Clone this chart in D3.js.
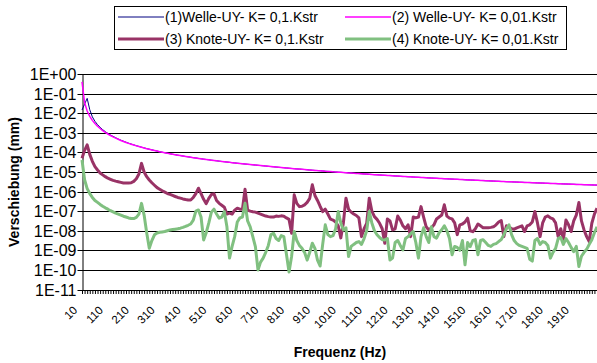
<!DOCTYPE html>
<html><head><meta charset="utf-8">
<script src="https://cdn.jsdelivr.net/npm/d3@7/dist/d3.min.js"></script>
<style>body{margin:0;background:#fff}svg{display:block}</style>
</head><body><svg id="c" width="597" height="363"></svg>
<script>
const freqs = d3.range(10, 2001, 10);
const tickLabels = ["10","110","210","310","410","510","610","710","810","910","1010","1110","1210","1310","1410","1510","1610","1710","1810","1910"];
const yTickLabels = ["1E-11","1E-10","1E-09","1E-08","1E-07","1E-06","1E-05","1E-04","1E-03","1E-02","1E-01","1E+00"];
const seriesNames = ["(1)Welle-UY- K= 0,1.Kstr","(2) Welle-UY- K= 0,01.Kstr","(3) Knote-UY- K= 0,1.Kstr","(4) Knote-UY- K= 0,01.Kstr"];

const welle1 = [1.45e-2,2.9e-2,5.7e-2,1.5e-2,6.5e-3,3.85e-3,2.6e-3,1.89e-3,1.44e-3,1.14e-3,
9.28e-4,7.7e-4,6.5e-4,5.57e-4,4.81e-4,4.21e-4,3.72e-4,3.3e-4,2.95e-4,2.66e-4,
2.41e-4,2.19e-4,2.0e-4,1.84e-4,1.69e-4,1.56e-4,1.45e-4,1.35e-4,1.25e-4,1.17e-4,
1.08e-4,1.02e-4,9.55e-5,9.0e-5,8.49e-5,8.02e-5,7.6e-5,7.2e-5,6.84e-5,6.5e-5,
6.19e-5,5.9e-5,5.62e-5,5.37e-5,5.14e-5,4.91e-5,4.71e-5,4.51e-5,4.33e-5,4.16e-5,
4.0e-5,3.85e-5,3.7e-5,3.57e-5,3.44e-5,3.32e-5,3.2e-5,3.09e-5,2.99e-5,2.89e-5,
2.79e-5,2.71e-5,2.62e-5,2.54e-5,2.46e-5,2.39e-5,2.32e-5,2.25e-5,2.18e-5,2.12e-5,
2.06e-5,2.0e-5,1.94e-5,1.88e-5,1.83e-5,1.78e-5,1.73e-5,1.68e-5,1.64e-5,1.59e-5,
1.55e-5,1.51e-5,1.47e-5,1.43e-5,1.4e-5,1.36e-5,1.33e-5,1.29e-5,1.26e-5,1.23e-5,
1.2e-5,1.17e-5,1.15e-5,1.12e-5,1.09e-5,1.07e-5,1.05e-5,1.02e-5,1.0e-5,9.78e-6,
9.56e-6,9.36e-6,9.16e-6,8.96e-6,8.77e-6,8.59e-6,8.41e-6,8.24e-6,8.07e-6,7.91e-6,
7.75e-6,7.59e-6,7.44e-6,7.3e-6,7.16e-6,7.02e-6,6.88e-6,6.75e-6,6.62e-6,6.5e-6,
6.38e-6,6.26e-6,6.15e-6,6.03e-6,5.92e-6,5.82e-6,5.71e-6,5.61e-6,5.51e-6,5.42e-6,
5.33e-6,5.24e-6,5.15e-6,5.07e-6,4.98e-6,4.9e-6,4.83e-6,4.75e-6,4.67e-6,4.6e-6,
4.53e-6,4.46e-6,4.39e-6,4.32e-6,4.25e-6,4.19e-6,4.12e-6,4.06e-6,4.0e-6,3.94e-6,
3.89e-6,3.83e-6,3.77e-6,3.72e-6,3.67e-6,3.61e-6,3.56e-6,3.51e-6,3.46e-6,3.41e-6,
3.37e-6,3.32e-6,3.28e-6,3.24e-6,3.2e-6,3.16e-6,3.12e-6,3.08e-6,3.04e-6,3.0e-6,
2.97e-6,2.93e-6,2.9e-6,2.86e-6,2.83e-6,2.79e-6,2.76e-6,2.73e-6,2.7e-6,2.66e-6,
2.63e-6,2.6e-6,2.57e-6,2.54e-6,2.51e-6,2.49e-6,2.46e-6,2.43e-6,2.4e-6,2.38e-6,
2.35e-6,2.32e-6,2.3e-6,2.27e-6,2.25e-6,2.23e-6,2.2e-6,2.18e-6,2.15e-6,2.13e-6];

const welle2 = [4.0e-1,3.5e-2,1.3e-2,6.9e-3,4.3e-3,3.0e-3,2.16e-3,1.65e-3,1.3e-3,1.05e-3,
8.66e-4,7.27e-4,6.19e-4,5.33e-4,4.64e-4,4.06e-4,3.6e-4,3.21e-4,2.88e-4,2.6e-4,
2.36e-4,2.15e-4,1.97e-4,1.81e-4,1.66e-4,1.54e-4,1.43e-4,1.33e-4,1.24e-4,1.16e-4,
1.08e-4,1.02e-4,9.55e-5,9.0e-5,8.49e-5,8.02e-5,7.6e-5,7.2e-5,6.84e-5,6.5e-5,
6.19e-5,5.9e-5,5.62e-5,5.37e-5,5.14e-5,4.91e-5,4.71e-5,4.51e-5,4.33e-5,4.16e-5,
4.0e-5,3.85e-5,3.7e-5,3.57e-5,3.44e-5,3.32e-5,3.2e-5,3.09e-5,2.99e-5,2.89e-5,
2.79e-5,2.71e-5,2.62e-5,2.54e-5,2.46e-5,2.39e-5,2.32e-5,2.25e-5,2.18e-5,2.12e-5,
2.06e-5,2.0e-5,1.94e-5,1.88e-5,1.83e-5,1.78e-5,1.73e-5,1.68e-5,1.64e-5,1.59e-5,
1.55e-5,1.51e-5,1.47e-5,1.43e-5,1.4e-5,1.36e-5,1.33e-5,1.29e-5,1.26e-5,1.23e-5,
1.2e-5,1.17e-5,1.15e-5,1.12e-5,1.09e-5,1.07e-5,1.05e-5,1.02e-5,1.0e-5,9.78e-6,
9.56e-6,9.36e-6,9.16e-6,8.96e-6,8.77e-6,8.59e-6,8.41e-6,8.24e-6,8.07e-6,7.91e-6,
7.75e-6,7.59e-6,7.44e-6,7.3e-6,7.16e-6,7.02e-6,6.88e-6,6.75e-6,6.62e-6,6.5e-6,
6.38e-6,6.26e-6,6.15e-6,6.03e-6,5.92e-6,5.82e-6,5.71e-6,5.61e-6,5.51e-6,5.42e-6,
5.33e-6,5.24e-6,5.15e-6,5.07e-6,4.98e-6,4.9e-6,4.83e-6,4.75e-6,4.67e-6,4.6e-6,
4.53e-6,4.46e-6,4.39e-6,4.32e-6,4.25e-6,4.19e-6,4.12e-6,4.06e-6,4.0e-6,3.94e-6,
3.89e-6,3.83e-6,3.77e-6,3.72e-6,3.67e-6,3.61e-6,3.56e-6,3.51e-6,3.46e-6,3.41e-6,
3.37e-6,3.32e-6,3.28e-6,3.24e-6,3.2e-6,3.16e-6,3.12e-6,3.08e-6,3.04e-6,3.0e-6,
2.97e-6,2.93e-6,2.9e-6,2.86e-6,2.83e-6,2.79e-6,2.76e-6,2.73e-6,2.7e-6,2.66e-6,
2.63e-6,2.6e-6,2.57e-6,2.54e-6,2.51e-6,2.49e-6,2.46e-6,2.43e-6,2.4e-6,2.38e-6,
2.35e-6,2.32e-6,2.3e-6,2.27e-6,2.25e-6,2.23e-6,2.2e-6,2.18e-6,2.15e-6,2.13e-6];

const knote3 = [5.0e-5,1.26e-4,2.4e-4,7.9e-5,3.5e-5,1.86e-5,1.26e-5,8.9e-6,7.1e-6,5.75e-6,
4.8e-6,4.2e-6,3.7e-6,3.4e-6,3.16e-6,2.95e-6,2.75e-6,2.7e-6,2.7e-6,2.8e-6,
3.3e-6,4.5e-6,7.9e-6,2.75e-5,1.0e-5,5.75e-6,3.9e-6,2.8e-6,2.1e-6,1.58e-6,
1.32e-6,1.1e-6,9.3e-7,7.9e-7,7.1e-7,6.3e-7,5.6e-7,5.0e-7,4.6e-7,4.2e-7,
3.9e-7,3.7e-7,3.7e-7,5.0e-7,7.9e-7,1.48e-6,7.9e-7,4.0e-7,2.4e-7,4.5e-7,
7.1e-7,7.6e-7,3.5e-7,2.5e-7,2.0e-7,1.58e-7,7.1e-8,7.9e-8,7.1e-8,1.12e-7,
1.41e-7,1.26e-7,1.26e-7,1.32e-6,1.12e-7,1.0e-7,9.3e-8,8.9e-8,7.9e-8,7.1e-8,
6.3e-8,5.6e-8,5.25e-8,5.0e-8,5.0e-8,5.6e-8,5.4e-8,5.75e-8,5.5e-8,4.5e-8,
3.8e-8,7.4e-9,6.8e-7,2.5e-7,1.7e-7,1.78e-7,2.1e-7,2.8e-7,4.5e-7,2.2e-6,
6.3e-7,3.5e-7,1.78e-7,9.5e-8,1.26e-7,7.1e-8,3.9e-8,3.5e-8,2.8e-8,1.78e-8,
4.3e-9,2.5e-8,4.6e-7,1.26e-7,8.9e-8,7.1e-8,6.0e-8,4.5e-8,5.0e-9,1.26e-8,
2.4e-8,4.6e-7,1.0e-7,5.25e-8,3.8e-8,2.4e-8,1.26e-8,2.3e-9,4.0e-8,3.16e-8,
1.1e-8,1.26e-8,5.6e-8,3.5e-8,1.78e-8,1.26e-8,2.0e-8,5.0e-9,5.0e-8,4.5e-8,
5.0e-8,1.7e-7,5.0e-8,1.58e-8,1.1e-8,1.41e-8,2.0e-8,4.0e-8,5.0e-8,6.3e-8,
2.1e-7,5.6e-8,4.4e-8,4.0e-8,2.5e-8,6.3e-9,2.0e-8,2.2e-8,2.8e-8,4.4e-8,
1.0e-8,8.9e-9,1.26e-8,2.2e-8,1.78e-8,1.41e-8,1.41e-8,1.41e-8,1.48e-8,1.58e-8,
2.0e-8,2.8e-8,3.3e-8,5.0e-9,1.78e-8,1.58e-8,1.26e-8,1.2e-8,1.41e-8,1.58e-8,
1.78e-8,9.1e-9,1.78e-8,2.0e-8,2.8e-8,9.5e-8,2.5e-8,5.0e-9,2.5e-8,5.0e-8,
5.75e-8,4.5e-8,4.0e-8,2.5e-8,5.0e-9,1.26e-8,3.4e-9,3.5e-8,2.0e-8,9.1e-9,
3.16e-8,6.3e-8,2.75e-7,3.16e-8,1.1e-8,5.0e-9,2.8e-9,2.4e-8,7.1e-8,1.41e-7];

const knote4 = [4.1e-5,4.0e-6,1.41e-6,7.9e-7,5.0e-7,3.5e-7,2.8e-7,2.2e-7,1.78e-7,1.48e-7,
1.26e-7,1.05e-7,9.1e-8,7.9e-8,7.1e-8,6.3e-8,5.5e-8,5.0e-8,4.5e-8,4.2e-8,
4.2e-8,4.8e-8,7.1e-8,2.5e-7,6.3e-8,7.9e-9,1.29e-9,3.16e-9,6.2e-9,7.6e-9,
8.3e-9,8.7e-9,9.1e-9,1.0e-8,1.1e-8,1.15e-8,1.2e-8,1.26e-8,1.35e-8,1.48e-8,
1.66e-8,1.9e-8,2.2e-8,3.5e-8,1.0e-7,1.15e-7,5.0e-8,3.4e-9,7.9e-9,2.5e-8,
8.9e-8,1.26e-7,7.1e-8,4.4e-8,5.0e-8,9.5e-8,1.58e-8,4.0e-10,1.58e-9,5.0e-9,
2.8e-8,4.5e-8,5.0e-8,2.5e-7,3.16e-8,1.58e-8,5.0e-9,1.55e-9,1.0e-10,2.5e-10,
4.0e-10,7.9e-10,1.78e-9,6.3e-9,7.4e-9,4.0e-9,3.16e-9,5.6e-9,5.0e-9,6.3e-10,
7.9e-11,5.0e-10,9.1e-9,3.16e-9,1.78e-9,1.26e-9,7.9e-10,3.16e-10,7.9e-10,2.3e-9,
1.26e-9,3.16e-10,1.58e-10,2.0e-9,2.0e-8,6.3e-9,5.0e-9,5.6e-9,1.26e-8,9.5e-8,
2.5e-8,1.1e-8,1.41e-8,4.8e-10,1.58e-9,2.0e-9,2.5e-9,2.8e-9,2.0e-9,4.0e-9,
1.0e-8,9.5e-8,2.5e-8,1.0e-8,6.2e-9,4.5e-9,3.5e-9,3.4e-9,4.0e-9,3.2e-10,
4.0e-10,2.5e-9,3.16e-9,1.78e-9,1.05e-9,4.0e-9,5.0e-9,7.1e-9,9.1e-9,2.5e-9,
4.0e-10,5.0e-9,1.41e-8,5.0e-9,2.5e-9,1.58e-8,5.0e-9,4.2e-9,7.9e-9,1.12e-8,
1.78e-8,1.0e-8,4.0e-9,5.9e-10,1.58e-9,1.41e-9,1.0e-9,3.16e-9,1.82e-10,2.5e-9,
1.55e-9,3.16e-9,3.5e-9,5.9e-10,3.16e-9,3.5e-9,2.5e-9,1.78e-9,1.58e-9,2.0e-9,
2.2e-9,2.8e-9,3.5e-9,6.3e-9,1.26e-8,2.0e-8,6.3e-9,3.16e-9,2.2e-9,1.78e-9,
1.58e-9,1.41e-9,1.26e-9,3.5e-10,2.8e-10,3.16e-9,4.0e-9,2.0e-9,2.8e-9,2.5e-9,
1.78e-9,4.0e-10,7.9e-10,1.26e-9,4.0e-9,4.5e-9,2.0e-9,4.0e-9,2.5e-9,1.41e-9,
8.5e-10,1.58e-9,1.48e-10,5.0e-10,7.9e-10,1.12e-9,2.0e-9,3.5e-9,7.9e-9,1.58e-8];

const colors = ["#000080","#FF00FF","#993366","#80C080"];
const widths = [1, 1.5, 3, 3];

const svg = d3.select("#c");
const font = "Liberation Sans, Arial, sans-serif";
const x = d3.scalePoint().domain(freqs).range([82, 597]);
const y = d3.scaleLog().domain([1e-11, 1]).range([289.5, 74]);
const decades = yTickLabels.map((t, i) => Math.pow(10, i - 11));

// gridlines
svg.append("g").selectAll("line").data(decades).join("line")
  .attr("x1", 82).attr("x2", 597)
  .attr("y1", d => Math.round(y(d)) + 0.5).attr("y2", d => Math.round(y(d)) + 0.5)
  .attr("stroke", "#000").attr("stroke-width", 1);

// y axis
const yAxis = d3.axisLeft(y).tickValues(decades).tickSize(5).tickSizeOuter(0)
  .tickFormat((d, i) => yTickLabels[i]);
const gy = svg.append("g").attr("transform", "translate(82.5,0)").call(yAxis);
gy.select(".domain").attr("stroke", "#000");
gy.selectAll(".tick line").attr("stroke", "#000");
gy.selectAll(".tick").attr("transform", d => `translate(0,${Math.round(y(d)) + 0.5})`);
gy.selectAll("text").attr("font-family", font).attr("font-size", 16).attr("fill", "#000").attr("x", -6).attr("dy", "0.35em");

// x axis (minor ticks at every category)
const xAxis = d3.axisBottom(x).tickValues(freqs).tickSize(4).tickSizeOuter(0).tickFormat("");
const gx = svg.append("g").attr("transform", "translate(0,290)").call(xAxis);
gx.select(".domain").attr("stroke", "#000");
gx.selectAll(".tick line").attr("stroke", "#000");
gx.selectAll("text").remove();

// category labels rotated 45 degrees
svg.append("g").selectAll("g").data(tickLabels).join("g")
  .attr("transform", d => `translate(${x(+d) - 4},311) rotate(-45)`)
  .append("text")
  .attr("text-anchor", "end").attr("font-family", font).attr("font-size", 11.5).attr("fill", "#000")
  .text(d => d);

// lines
const allSeries = [welle1, welle2, knote3, knote4];
const line = d3.line().x((d, i) => x(freqs[i])).y(d => y(d));
allSeries.forEach((s, k) => {
  svg.append("path").datum(s).attr("d", line).attr("fill", "none")
    .attr("stroke", colors[k]).attr("stroke-width", widths[k]).attr("stroke-linejoin", "round");
});

// axis titles
svg.append("text").attr("transform", "translate(19,182) rotate(-90)")
  .attr("text-anchor", "middle").attr("font-family", font).attr("font-weight", "bold")
  .attr("font-size", 14).text("Verschiebung (mm)");
svg.append("text").attr("x", 340).attr("y", 357)
  .attr("text-anchor", "middle").attr("font-family", font).attr("font-weight", "bold")
  .attr("font-size", 14).text("Frequenz (Hz)");

// legend
const lg = svg.append("g");
lg.append("rect").attr("x", 114.5).attr("y", 6.5).attr("width", 452).attr("height", 43)
  .attr("fill", "#fff").attr("stroke", "#000");
const legendPos = [[118, 17], [345, 17], [118, 39], [345, 39]];
seriesNames.forEach((n, k) => {
  const [lx, ly] = legendPos[k];
  lg.append("line").attr("x1", lx).attr("x2", lx + 46).attr("y1", ly).attr("y2", ly)
    .attr("stroke", colors[k]).attr("stroke-width", widths[k]);
  lg.append("text").attr("x", lx + 47).attr("y", ly).attr("dy", "0.35em")
    .attr("font-family", font).attr("font-size", 14).text(n);
});
</script></body></html>
